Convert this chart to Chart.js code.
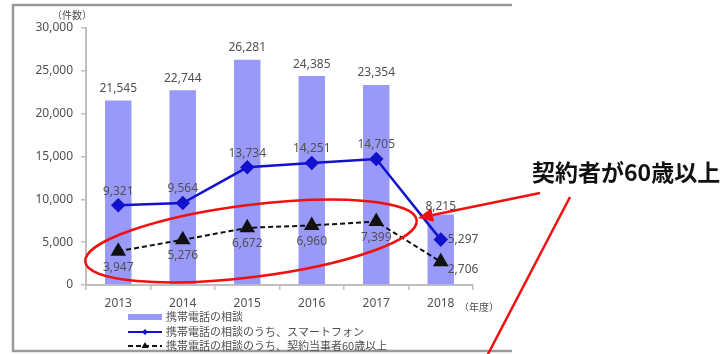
<!DOCTYPE html>
<html>
<head>
<meta charset="utf-8">
<script src="https://cdn.jsdelivr.net/npm/chart.js"></script>
<style>
  html, body { margin: 0; padding: 0; background: #fff; }
  #wrap { position: relative; width: 725px; height: 354px; }
  #callout {
    position: absolute; left: 532px; top: 156px;
    font-family: "Noto Sans CJK JP", sans-serif; font-weight: bold;
    font-size: 23px; line-height: 30px; color: #111; white-space: nowrap;
  }
</style>
</head>
<body>
<div id="wrap">
  <canvas id="chart" width="725" height="354"></canvas>
  <div id="callout">契約者が60歳以上</div>
</div>
<script>
// ---- data ----
const years = ['2013', '2014', '2015', '2016', '2017', '2018'];
const phoneConsults = [21545, 22744, 26281, 24385, 23354, 8215];
const smartphoneConsults = [9321, 9564, 13734, 14251, 14705, 5297];
const over60Consults = [3947, 5276, 6672, 6960, 7399, 2706];
const seriesNames = [
  '携帯電話の相談',
  '携帯電話の相談のうち、スマートフォン',
  '携帯電話の相談のうち、契約当事者60歳以上'
];
const yMax = 30000;
const yStep = 5000;

const BAR_COLOR = 'rgb(153,153,250)';
const BLUE = 'rgb(18,18,205)';
const BLACK = '#111';
const TEXT = '#505050';
const NUM_FONT = '12px "Noto Sans", sans-serif';

const fmt = v => v.toLocaleString('en-US');

/* ==========================
   Plugins
========================== */
// frame + axis unit labels
const framePlugin = {
  id: 'frame',
  beforeDraw(chart) {
    const ctx = chart.ctx;
    ctx.save();
    ctx.strokeStyle = '#9a9a9a';
    ctx.lineWidth = 2.5;
    ctx.beginPath();
    ctx.moveTo(512, 5);
    ctx.lineTo(13, 5);
    ctx.lineTo(13, 351);
    ctx.lineTo(512, 351);
    ctx.stroke();
    ctx.restore();
  },
  afterDraw(chart) {
    const ctx = chart.ctx;
    const area = chart.chartArea;
    ctx.save();
    ctx.fillStyle = TEXT;
    ctx.font = '10px "Noto Sans CJK JP", sans-serif';
    ctx.textBaseline = 'middle';
    ctx.textAlign = 'center';
    ctx.fillText('（件数）', 72, 15);
    ctx.textAlign = 'left';
    ctx.fillText('（年度）', area.right - 14, 307);
    ctx.restore();
  }
};

// value labels on bars and points
const valueLabels = {
  id: 'valueLabels',
  afterDatasetsDraw(chart) {
    const ctx = chart.ctx;
    ctx.save();
    ctx.font = NUM_FONT;
    ctx.fillStyle = TEXT;
    chart.data.datasets.forEach((ds, i) => {
      const meta = chart.getDatasetMeta(i);
      meta.data.forEach((el, j) => {
        const last = j === ds.data.length - 1;
        let x = el.x, y = el.y, align = 'center';
        if (ds.labelPos === 'top') { y -= 12; }
        else if (ds.labelPos === 'above') {
          if (last) { x += 7; align = 'left'; } else { y -= 14; }
        } else {
          if (last) { x += 7; y += 8; align = 'left'; } else { y += 16; }
        }
        if (ds.type !== 'line' && last) y += 4;
        ctx.textAlign = align;
        ctx.textBaseline = 'middle';
        ctx.fillText(fmt(ds.data[j]), x, y);
      });
    });
    ctx.restore();
  }
};

// vertical legend under the axis
const stackedLegend = {
  id: 'stackedLegend',
  afterDraw(chart) {
    const ctx = chart.ctx;
    const x0 = 128, x1 = 162;
    const rows = [317, 332, 346];
    ctx.save();
    chart.data.datasets.forEach((ds, i) => {
      const y = rows[i];
      const mid = (x0 + x1) / 2;
      if (ds.type === 'line') {
        ctx.strokeStyle = ds.borderColor;
        ctx.lineWidth = 2;
        ctx.setLineDash(ds.borderDash || []);
        ctx.beginPath();
        ctx.moveTo(x0, y); ctx.lineTo(x1, y);
        ctx.stroke();
        ctx.setLineDash([]);
        ctx.fillStyle = ds.pointBackgroundColor;
        ctx.beginPath();
        if (ds.pointStyle === 'triangle') {
          ctx.moveTo(mid, y - 4); ctx.lineTo(mid + 3.5, y + 2); ctx.lineTo(mid - 3.5, y + 2);
        } else {
          ctx.moveTo(mid, y - 3); ctx.lineTo(mid + 3, y); ctx.lineTo(mid, y + 3); ctx.lineTo(mid - 3, y);
        }
        ctx.closePath();
        ctx.fill();
      } else {
        ctx.fillStyle = ds.backgroundColor;
        ctx.fillRect(x0, y - 3, x1 - x0, 6);
      }
      ctx.fillStyle = TEXT;
      ctx.font = '11px "Noto Sans CJK JP", sans-serif';
      ctx.textAlign = 'left';
      ctx.textBaseline = 'middle';
      ctx.fillText(ds.label, x1 + 4, y);
    });
    ctx.restore();
  }
};

// red ellipse, arrow and pointer line
const redMarks = {
  id: 'redMarks',
  afterDraw(chart) {
    const ctx = chart.ctx;
    ctx.save();
    ctx.strokeStyle = '#f01010';
    ctx.fillStyle = '#f01010';
    ctx.lineWidth = 2.5;
    ctx.beginPath();
    ctx.ellipse(251, 241, 167, 36, -7.2 * Math.PI / 180, 0, Math.PI * 2);
    ctx.stroke();
    // arrow
    const sx = 540, sy = 193, tx = 418, ty = 218;
    const ang = Math.atan2(ty - sy, tx - sx);
    const hx = tx - 15 * Math.cos(ang), hy = ty - 15 * Math.sin(ang);
    ctx.beginPath();
    ctx.moveTo(sx, sy); ctx.lineTo(hx, hy);
    ctx.stroke();
    ctx.beginPath();
    ctx.moveTo(tx, ty);
    ctx.lineTo(hx + 7 * Math.sin(ang), hy - 7 * Math.cos(ang));
    ctx.lineTo(hx - 7 * Math.sin(ang), hy + 7 * Math.cos(ang));
    ctx.closePath();
    ctx.fill();
    // pointer line
    ctx.beginPath();
    ctx.moveTo(570, 197); ctx.lineTo(487, 356);
    ctx.stroke();
    ctx.restore();
  }
};

/* ==========================
   Chart
========================== */
const ctx = document.getElementById('chart');
new Chart(ctx, {
  type: 'bar',
  data: {
    labels: years,
    datasets: [
      {
        type: 'bar',
        label: seriesNames[0],
        data: phoneConsults,
        backgroundColor: BAR_COLOR,
        barPercentage: 0.41,
        categoryPercentage: 1,
        labelPos: 'top',
        order: 3
      },
      {
        type: 'line',
        label: seriesNames[1],
        data: smartphoneConsults,
        borderColor: BLUE,
        backgroundColor: BLUE,
        pointBackgroundColor: BLUE,
        pointBorderColor: BLUE,
        borderWidth: 2.5,
        pointStyle: 'rectRot',
        pointRadius: 5.5,
        tension: 0,
        labelPos: 'above',
        order: 2
      },
      {
        type: 'line',
        label: seriesNames[2],
        data: over60Consults,
        borderColor: BLACK,
        backgroundColor: BLACK,
        pointBackgroundColor: BLACK,
        pointBorderColor: BLACK,
        borderWidth: 2,
        borderDash: [5, 3],
        pointStyle: 'triangle',
        pointRadius: 7,
        tension: 0,
        labelPos: 'below',
        order: 1
      }
    ]
  },
  options: {
    responsive: false,
    animation: false,
    layout: { padding: { left: 0, right: 252, top: 28, bottom: 0 } },
    plugins: {
      legend: { display: false },
      tooltip: { enabled: false }
    },
    scales: {
      x: {
        afterFit(scale) { scale.height = 69; },
        grid: {
          display: true,
          drawOnChartArea: false,
          drawTicks: true,
          tickLength: 5,
          offset: true,
          color: '#bfbfbf',
          lineWidth: 1.5
        },
        border: { color: '#bfbfbf', width: 2 },
        ticks: {
          color: TEXT,
          padding: 6,
          font: { size: 12, family: '"Noto Sans", sans-serif' }
        }
      },
      y: {
        min: 0,
        max: yMax,
        afterFit(scale) { scale.width = 86; },
        grid: {
          display: true,
          drawOnChartArea: false,
          drawTicks: true,
          tickLength: 5,
          color: '#bfbfbf',
          lineWidth: 1.5
        },
        border: { color: '#bfbfbf', width: 2 },
        ticks: {
          stepSize: yStep,
          color: TEXT,
          padding: 8,
          font: { size: 12, family: '"Noto Sans", sans-serif' },
          callback: v => fmt(v)
        }
      }
    }
  },
  plugins: [framePlugin, valueLabels, stackedLegend, redMarks]
});
</script>
</body>
</html>
